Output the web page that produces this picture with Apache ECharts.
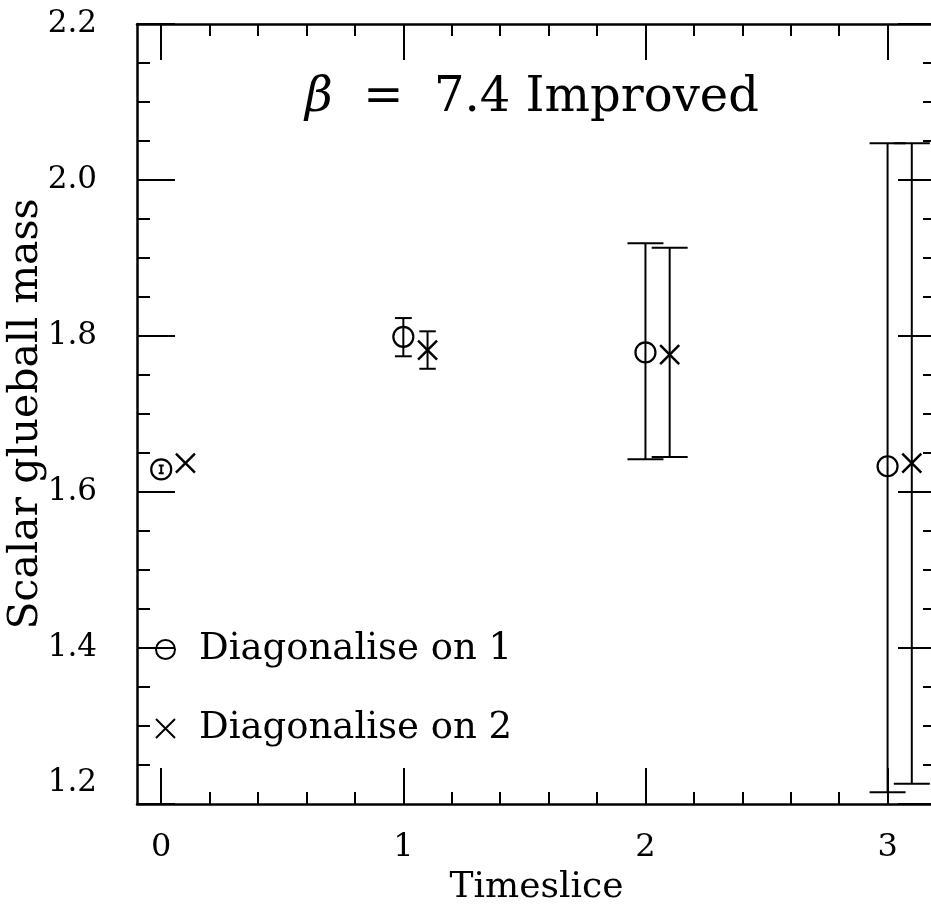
<!DOCTYPE html>
<html>
<head>
<meta charset="utf-8">
<script src="https://cdn.jsdelivr.net/npm/echarts@6/dist/echarts.min.js"></script>
<style>
html,body{margin:0;padding:0;background:#fff;}
#chart{width:931px;height:905px;}
</style>
</head>
<body>
<div id="chart"></div>
<script>
// ---- data ----
const seriesNames = ['Diagonalise on 1', 'Diagonalise on 2'];
const xCircle = [0, 1, 2, 3];
const yCircle = [1.629, 1.799, 1.779, 1.633];
const loCircle = [1.624, 1.774, 1.642, 1.215];
const hiCircle = [1.634, 1.823, 1.919, 2.047];

const xCross = [0.1, 1.1, 2.1, 3.1];
const yCross = [1.637, 1.782, 1.776, 1.637];
const loCross = [1.637, 1.758, 1.645, 1.226];
const hiCross = [1.637, 1.806, 1.913, 2.047];

const xMajorTicks = [0, 1, 2, 3];
const xMinorTicks = [0.2, 0.4, 0.6, 0.8, 1.2, 1.4, 1.6, 1.8, 2.2, 2.4, 2.6, 2.8];
const xRange = [-0.1, 3.2];
const yRange = [1.2, 2.2];
const yStep = 0.2;
const titleText = '{b|β}  =  7.4 Improved';
const xTitle = 'Timeslice';
const yTitle = 'Scalar glueball mass';

// ---- chart ----
const FONT = 'DejaVu Serif';
const chart = echarts.init(document.getElementById('chart'), null, {renderer: 'canvas'});

function errData(xs, lo, hi) {
  return xs.map((x, i) => [x, lo[i], hi[i]]);
}
function pts(xs, ys) {
  return xs.map((x, i) => [x, ys[i]]);
}
function errRender(params, api) {
  const x = api.value(0), lo = api.value(1), hi = api.value(2);
  const pLo = api.coord([x, lo]);
  const pHi = api.coord([x, hi]);
  const len = Math.abs(pLo[1] - pHi[1]);
  if (len < 1) return null;
  const cap = Math.min(18, Math.max(2.5, len * 0.22));
  const style = {stroke: '#000', lineWidth: 2, fill: null};
  return {
    type: 'group',
    children: [
      {type: 'line', shape: {x1: pLo[0], y1: pLo[1], x2: pHi[0], y2: pHi[1]}, style},
      {type: 'line', shape: {x1: pLo[0] - cap, y1: pLo[1], x2: pLo[0] + cap, y2: pLo[1]}, style},
      {type: 'line', shape: {x1: pHi[0] - cap, y1: pHi[1], x2: pHi[0] + cap, y2: pHi[1]}, style}
    ]
  };
}

const crossPath = 'path://M0,0L10,10M10,0L0,10';
const axisLineStyle = {color: '#000', width: 2.5};
const tickLine = {color: '#000', width: 2};

function xAx(pos, custom, len, withLabel, line) {
  const ax = {
    type: 'value', position: pos, min: xRange[0], max: xRange[1],
    gridIndex: 0,
    axisLine: {show: line, onZero: false, lineStyle: axisLineStyle},
    axisTick: {show: true, inside: true, length: len, customValues: custom, lineStyle: tickLine},
    axisLabel: {show: withLabel, customValues: custom, fontFamily: FONT, fontSize: 32, color: '#000', margin: 28},
    splitLine: {show: false}
  };
  if (withLabel) {
    ax.name = xTitle;
    ax.nameLocation = 'middle';
    ax.nameGap = 66;
    ax.nameMoveOverlap = false;
    ax.nameTextStyle = {fontFamily: FONT, fontSize: 36, color: '#000'};
  }
  return ax;
}
function yAx(pos, withLabel) {
  const ax = {
    type: 'value', position: pos, min: yRange[0], max: yRange[1], interval: yStep,
    axisLine: {show: true, onZero: false, lineStyle: axisLineStyle},
    axisTick: {show: true, inside: true, length: 38, lineStyle: tickLine},
    minorTick: {show: true, splitNumber: 4, length: 13, lineStyle: tickLine},
    axisLabel: {show: withLabel, fontFamily: FONT, fontSize: 31, color: '#000', margin: 40,
      formatter: v => (Math.abs(v - yRange[0]) < 1e-9 ? '{up|' + v.toFixed(1) + '}' : v.toFixed(1)),
      rich: {up: {fontFamily: FONT, fontSize: 31, color: '#000', padding: [0, 0, 42, 0]}}},
    splitLine: {show: false}
  };
  if (withLabel) {
    ax.name = yTitle;
    ax.nameLocation = 'middle';
    ax.nameGap = 90;
    ax.nameMoveOverlap = false;
    ax.nameTextStyle = {fontFamily: FONT, fontSize: 41, color: '#000'};
  }
  return ax;
}

const option = {
  backgroundColor: '#fff',
  animation: false,
  title: {
    text: titleText,
    left: 300, top: 70,
    textStyle: {fontFamily: FONT, fontSize: 48, fontWeight: 'normal', color: '#000',
      rich: {b: {fontFamily: FONT, fontSize: 48, fontStyle: 'italic', color: '#000'}}}
  },
  grid: {left: 137, top: 24, width: 799, height: 780, outerBoundsMode: 'none', containLabel: false},
  xAxis: [
    xAx('bottom', xMajorTicks, 36, true, true),
    xAx('bottom', xMinorTicks, 12, false, false),
    xAx('top', xMajorTicks, 36, false, true),
    xAx('top', xMinorTicks, 12, false, false)
  ],
  yAxis: [yAx('left', true), yAx('right', false)],
  legend: {
    orient: 'vertical', left: 150, top: 626,
    itemWidth: 19, itemHeight: 19, itemGap: 42,
    textStyle: {fontFamily: FONT, fontSize: 37, color: '#000', padding: [0, 0, 0, 19]},
    data: [
      {name: seriesNames[0], icon: 'circle', itemStyle: {color: 'rgba(0,0,0,0)', borderColor: '#000', borderWidth: 2}},
      {name: seriesNames[1], icon: crossPath, itemStyle: {color: 'rgba(0,0,0,0)', borderColor: '#000', borderWidth: 2}}
    ]
  },
  series: [
    {type: 'custom', name: 'err1', xAxisIndex: 0, yAxisIndex: 0, renderItem: errRender,
      data: errData(xCircle, loCircle, hiCircle), encode: {x: 0, y: [1, 2]}, silent: true},
    {type: 'custom', name: 'err2', xAxisIndex: 0, yAxisIndex: 0, renderItem: errRender,
      data: errData(xCross, loCross, hiCross), encode: {x: 0, y: [1, 2]}, silent: true},
    {type: 'scatter', name: seriesNames[0], xAxisIndex: 0, yAxisIndex: 0,
      symbol: 'circle', symbolSize: 20,
      itemStyle: {color: 'rgba(0,0,0,0)', borderColor: '#000', borderWidth: 2.2, opacity: 1},
      data: pts(xCircle, yCircle)},
    {type: 'scatter', name: seriesNames[1], xAxisIndex: 0, yAxisIndex: 0,
      symbol: crossPath, symbolSize: 19,
      itemStyle: {color: 'rgba(0,0,0,0)', borderColor: '#000', borderWidth: 2.5, opacity: 1},
      data: pts(xCross, yCross)}
  ]
};
chart.setOption(option);
</script>
</body>
</html>
